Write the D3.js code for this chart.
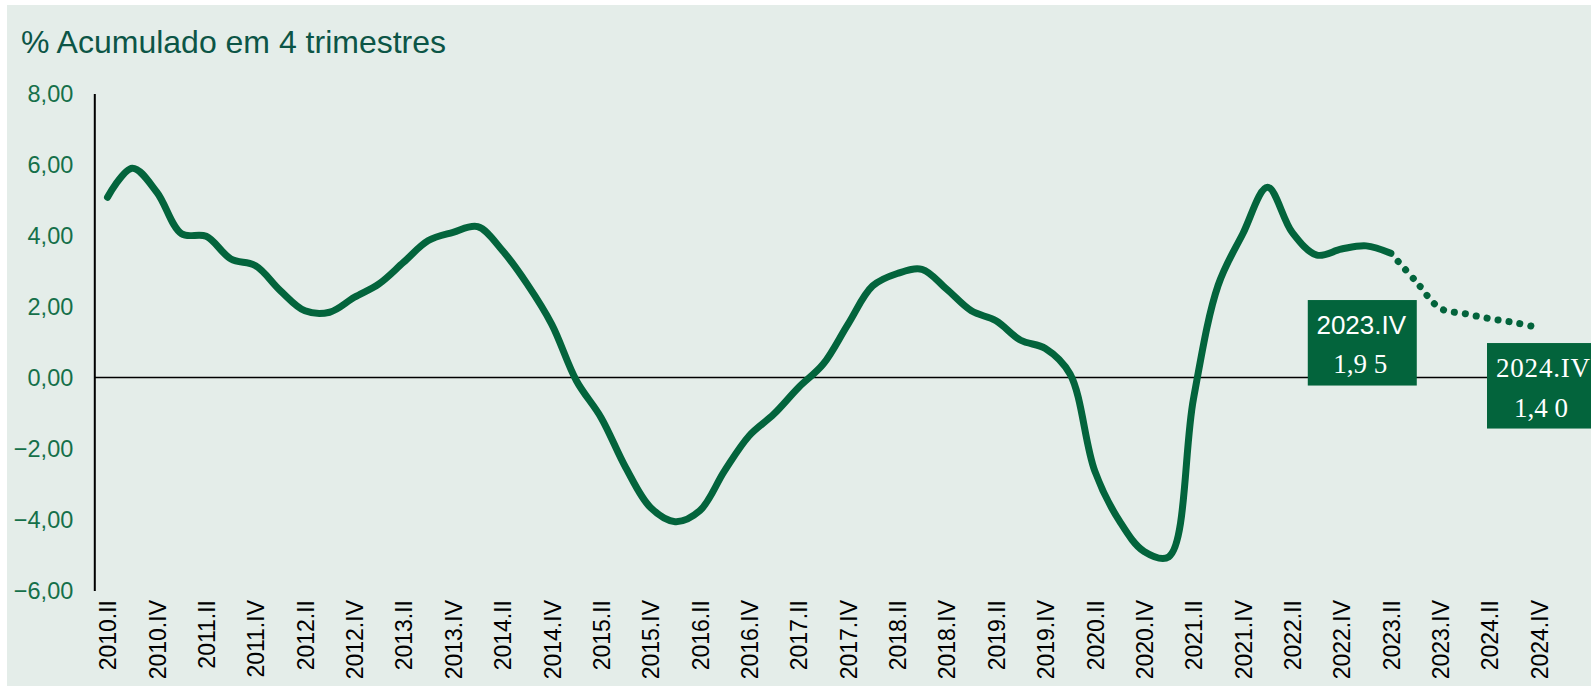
<!DOCTYPE html>
<html>
<head>
<meta charset="utf-8">
<script src="https://cdn.jsdelivr.net/npm/d3@7"></script>
<style>
  html, body { margin: 0; padding: 0; background: #ffffff; }
  svg { display: block; }
</style>
</head>
<body>
<svg id="chart" width="1591" height="686"></svg>
<script>
// ---------------- DATA ----------------
const quarters = [
  "2010.II","2010.III","2010.IV",
  "2011.I","2011.II","2011.III","2011.IV",
  "2012.I","2012.II","2012.III","2012.IV",
  "2013.I","2013.II","2013.III","2013.IV",
  "2014.I","2014.II","2014.III","2014.IV",
  "2015.I","2015.II","2015.III","2015.IV",
  "2016.I","2016.II","2016.III","2016.IV",
  "2017.I","2017.II","2017.III","2017.IV",
  "2018.I","2018.II","2018.III","2018.IV",
  "2019.I","2019.II","2019.III","2019.IV",
  "2020.I","2020.II","2020.III","2020.IV",
  "2021.I","2021.II","2021.III","2021.IV",
  "2022.I","2022.II","2022.III","2022.IV",
  "2023.I","2023.II","2023.III","2023.IV",
  "2024.I","2024.II","2024.III","2024.IV"
];

// Observed series (2010.II – 2023.II)
const observedQuarters = quarters.slice(0, 53);
const observedValues = [
  5.08, 5.90, 5.22,
  4.05, 3.98, 3.34, 3.15,
  2.45, 1.88, 1.84, 2.26,
  2.64, 3.25, 3.86, 4.09,
  4.25, 3.58, 2.64, 1.50,
  -0.09, -1.13, -2.54, -3.66,
  -4.06, -3.75, -2.63, -1.64,
  -1.03, -0.28, 0.38, 1.50,
  2.58, 2.93, 3.05, 2.49,
  1.88, 1.60, 1.05, 0.82,
  0.10, -2.63, -4.04, -4.90,
  -5.05, -0.60, 2.60, 4.05,
  5.36, 4.09, 3.45, 3.62,
  3.71, 3.50
];

// Projection (2023.II – 2024.IV)
const projectedQuarters = ["2023.II","2023.III","2023.IV","2024.I","2024.II","2024.III","2024.IV"];
const projectedValues = [3.50, 2.72, 1.95, 1.80, 1.66, 1.55, 1.40];

const yTicks = [-6, -4, -2, 0, 2, 4, 6, 8];
const xTickLabels = quarters.filter(q => /\.(II|IV)$/.test(q));

const titleText = "% Acumulado em 4 trimestres";
const annotationQuarters = ["2023.IV", "2024.IV"];
const annotationValues = ["1,9 5", "1,4 0"];

// ---------------- DRAW ----------------
const W = 1591, H = 686;
const svg = d3.select("#chart");
const green = "#03643c";

svg.append("rect")
  .attr("x", 7).attr("y", 5)
  .attr("width", W - 7).attr("height", H - 5)
  .attr("fill", "#e4ede9");

const x = d3.scalePoint().domain(quarters).range([107.5, 1539]);
const y = d3.scaleLinear().domain([-6, 8]).range([590.5, 93.6]);

// title
svg.append("text")
  .attr("x", 21).attr("y", 53)
  .attr("font-family", "'Liberation Sans', Arial, sans-serif")
  .attr("font-size", 32)
  .attr("fill", "#0c5546")
  .text(titleText);

// y axis
const yAxis = d3.axisLeft(y)
  .tickValues(yTicks)
  .tickSize(0)
  .tickPadding(21)
  .tickFormat(d => d3.format(".2f")(d).replace(".", ","));

const gy = svg.append("g")
  .attr("transform", "translate(94.3,0)")
  .call(yAxis);
gy.select(".domain").attr("stroke", "#000").attr("stroke-width", 2);
gy.selectAll("text")
  .attr("font-family", "'Liberation Sans', Arial, sans-serif")
  .attr("font-size", 23.5)
  .attr("fill", "#15704a");

// zero line
svg.append("line")
  .attr("x1", 94.3).attr("x2", W)
  .attr("y1", y(0)).attr("y2", y(0))
  .attr("stroke", "#000").attr("stroke-width", 1.5);

// x axis labels (rotated)
const xAxis = d3.axisBottom(x)
  .tickValues(xTickLabels)
  .tickSize(0)
  .tickPadding(0);
const gx = svg.append("g")
  .attr("transform", "translate(0,600)")
  .call(xAxis);
gx.select(".domain").remove();
gx.selectAll("text")
  .attr("font-family", "'Liberation Sans', Arial, sans-serif")
  .attr("font-size", 23)
  .attr("fill", "#000")
  .attr("text-anchor", "end")
  .attr("transform", "rotate(-90)")
  .attr("x", 0).attr("y", 0)
  .attr("dy", "0.36em");

// lines
const line = d3.line()
  .x(d => x(d.q))
  .y(d => y(d.v))
  .curve(d3.curveCatmullRom.alpha(0.5));

const obs = observedQuarters.map((q, i) => ({ q, v: observedValues[i] }));
const proj = projectedQuarters.map((q, i) => ({ q, v: projectedValues[i] }));

svg.append("path")
  .datum(obs)
  .attr("d", line)
  .attr("fill", "none")
  .attr("stroke", green)
  .attr("stroke-width", 7)
  .attr("stroke-linecap", "round")
  .attr("stroke-linejoin", "round");

svg.append("path")
  .datum(proj)
  .attr("d", line)
  .attr("fill", "none")
  .attr("stroke", green)
  .attr("stroke-width", 7)
  .attr("stroke-linecap", "round")
  .attr("stroke-dasharray", "0.1 11")
  .attr("stroke-dashoffset", -11);

// annotation boxes
// box 1: 2023.IV
const b1cx = x(annotationQuarters[0]) - 78;
const b1 = svg.append("g");
b1.append("rect")
  .attr("x", b1cx - 54.5).attr("y", y(0) - 77.5)
  .attr("width", 109).attr("height", 85.5)
  .attr("fill", green);
b1.append("text")
  .attr("x", b1cx - 1).attr("y", y(0) - 44)
  .attr("text-anchor", "middle")
  .attr("font-family", "'Liberation Sans', Arial, sans-serif")
  .attr("font-size", 26)
  .attr("fill", "#fff")
  .text(annotationQuarters[0]);
b1.append("text")
  .attr("x", b1cx - 2).attr("y", y(0) - 5)
  .attr("text-anchor", "middle")
  .attr("font-family", "'Liberation Serif', 'Times New Roman', serif")
  .attr("font-size", 27)
  .attr("fill", "#fff")
  .text(annotationValues[0]);

// box 2: 2024.IV
const b2cx = x(annotationQuarters[1]);
const b2 = svg.append("g");
b2.append("rect")
  .attr("x", b2cx - 52).attr("y", y(0) - 34.5)
  .attr("width", W - (b2cx - 52)).attr("height", 85.5)
  .attr("fill", green);
b2.append("text")
  .attr("x", b2cx - 43).attr("y", y(0) - 1)
  .attr("font-family", "'Liberation Serif', 'Times New Roman', serif")
  .attr("font-size", 27)
  .attr("letter-spacing", 0.8)
  .attr("fill", "#fff")
  .text(annotationQuarters[1]);
b2.append("text")
  .attr("x", b2cx + 2).attr("y", y(0) + 39)
  .attr("text-anchor", "middle")
  .attr("font-family", "'Liberation Serif', 'Times New Roman', serif")
  .attr("font-size", 27)
  .attr("fill", "#fff")
  .text(annotationValues[1]);
</script>
</body>
</html>
